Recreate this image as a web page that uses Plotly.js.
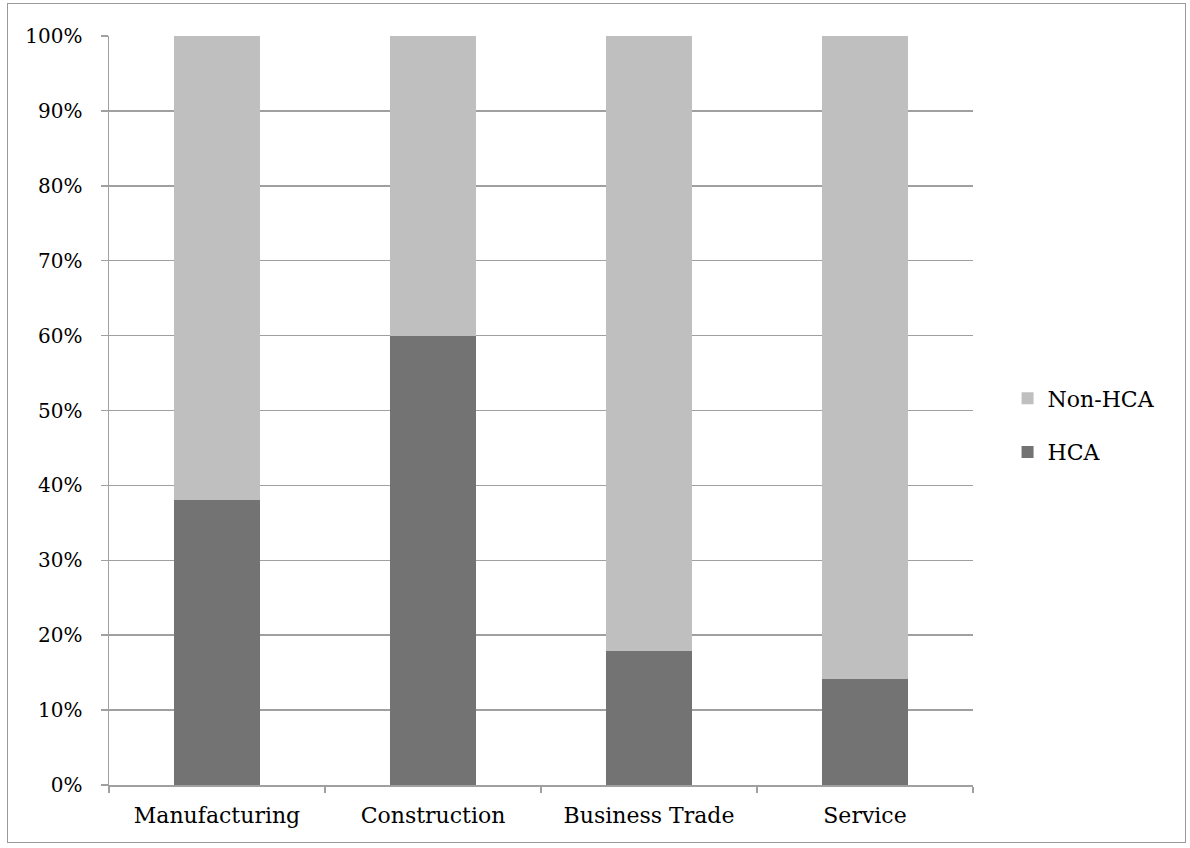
<!DOCTYPE html>
<html>
<head>
<meta charset="utf-8">
<script src="https://cdn.plot.ly/plotly-3.0.1.min.js"></script>
<style>
html,body{margin:0;padding:0;background:#fff;}
#wrap{position:relative;width:1190px;height:848px;}
#chart{width:1190px;height:848px;}
#frame{position:absolute;left:7px;top:3px;width:1177px;height:838px;border:1px solid #9a9a9a;pointer-events:none;}
</style>
</head>
<body>
<div id="wrap">
<div id="chart"></div>
<div id="frame"></div>
</div>
<script>
const categories = ["Manufacturing", "Construction", "Business Trade", "Service"];
const hca = [38, 60, 17.9, 14.2];
const nonHca = [62, 40, 82.1, 85.8];
const yTickVals = [0, 10, 20, 30, 40, 50, 60, 70, 80, 90, 100];
const yTickText = ["0%", "10%", "20%", "30%", "40%", "50%", "60%", "70%", "80%", "90%", "100%"];

const font = {family: "DejaVu Serif", size: 20, color: "#000"};
const bigFont = {family: "DejaVu Serif", size: 22, color: "#000"};

const traces = [
  {type: "bar", name: "HCA", legendgroup: "b", legendrank: 2, x: categories, y: hca, marker: {color: "#737373"}, hoverinfo: "none"},
  {type: "bar", name: "Non-HCA", legendgroup: "a", legendrank: 1, x: categories, y: nonHca, marker: {color: "#bfbfbf"}, hoverinfo: "none"}
];

const layout = {
  width: 1190, height: 848,
  margin: {l: 109, r: 217, t: 36, b: 63, pad: 0},
  paper_bgcolor: "#fff", plot_bgcolor: "#fff",
  barmode: "stack", bargap: 0.6,
  font: font,
  showlegend: true,
  legend: {x: 1.04, xanchor: "left", y: 0.48, yanchor: "middle", traceorder: "grouped",
           font: bigFont, itemwidth: 30, tracegroupgap: 22, bgcolor: "rgba(0,0,0,0)"},
  xaxis: {
    type: "category", tickson: "boundaries", ticks: "outside", ticklen: 6, tickcolor: "#a0a0a0", tickwidth: 1.5,
    ticklabelstandoff: 10,
    showline: true, linecolor: "#a0a0a0", linewidth: 1.5, showgrid: false, zeroline: false,
    tickfont: bigFont, fixedrange: true
  },
  yaxis: {
    range: [0, 100], tickvals: yTickVals, ticktext: yTickText,
    ticks: "outside", ticklen: 7, tickcolor: "#a0a0a0", tickwidth: 1.5, ticklabelstandoff: 14,
    showline: true, linecolor: "#a0a0a0", linewidth: 1.5,
    showgrid: true, gridcolor: "#a0a0a0", gridwidth: 1.5, zeroline: false,
    tickfont: font, fixedrange: true
  }
};

Plotly.newPlot("chart", traces, layout, {displayModeBar: false, staticPlot: true});
</script>
</body>
</html>
